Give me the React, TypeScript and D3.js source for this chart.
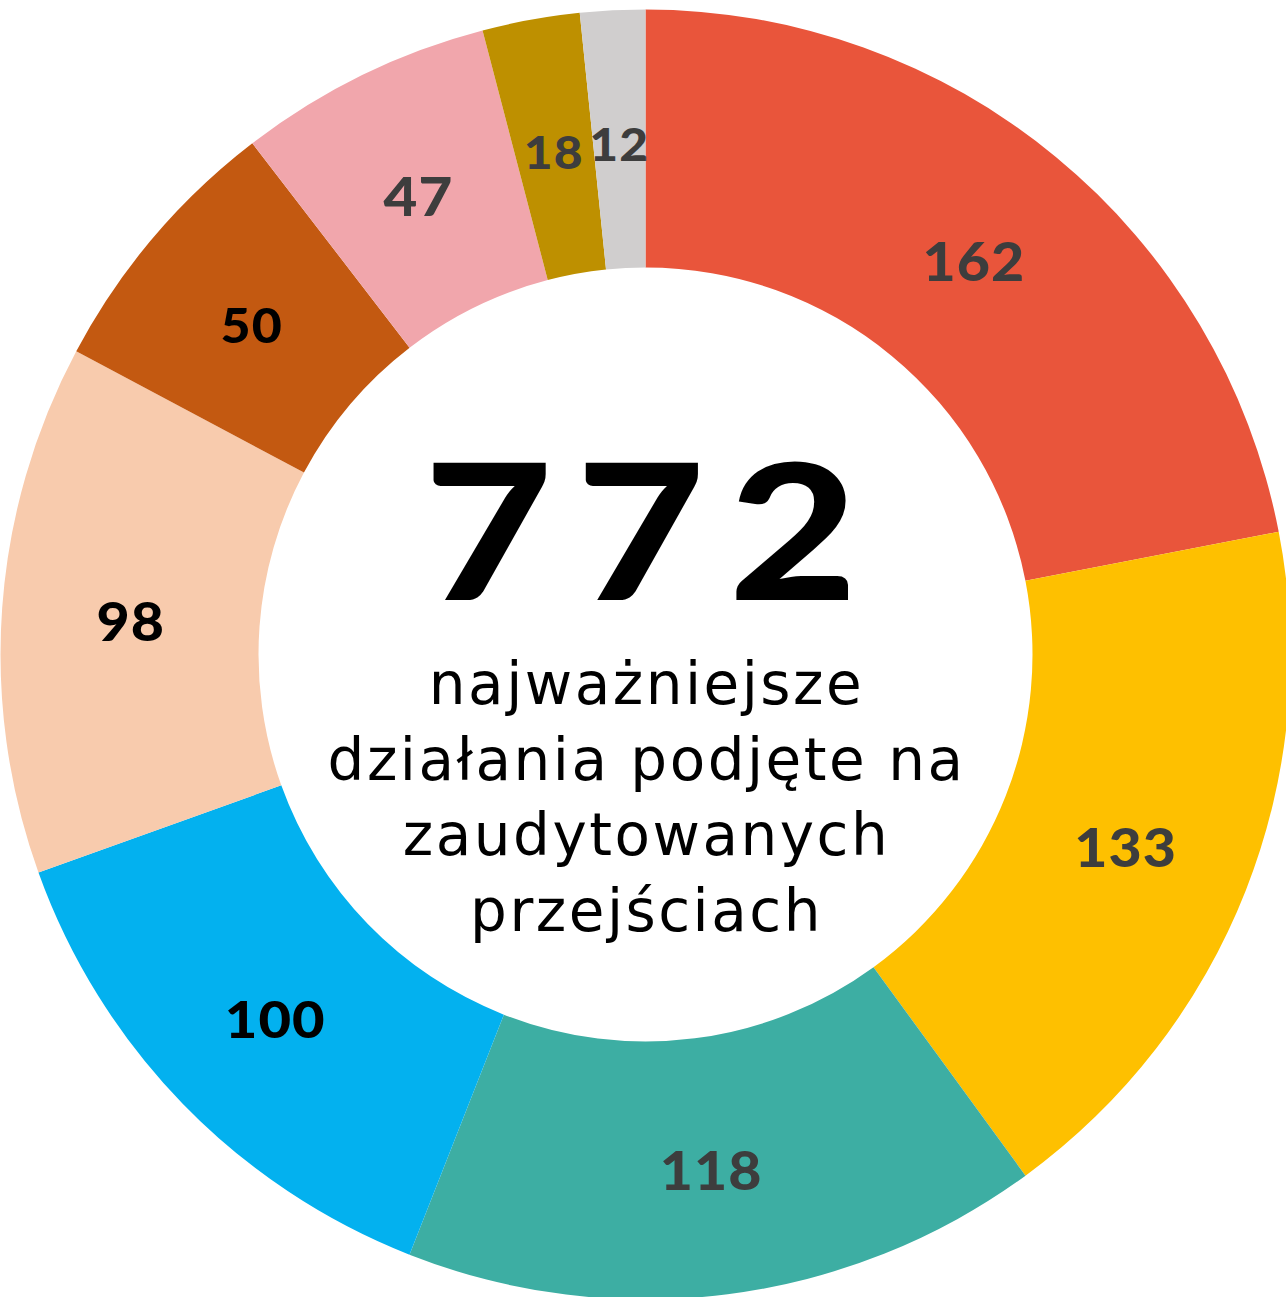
import { useEffect, useRef } from "react";
import * as d3 from "d3";

const values = [162, 133, 118, 100, 98, 50, 47, 18, 12];
const colors = ["#E9553B", "#FEC000", "#3DAEA3", "#03B1EF", "#F8CBAD", "#C35911", "#F1A6AC", "#BE9000", "#D0CECE"];
const labelColors = ["#3d3d3d", "#3d3d3d", "#3d3d3d", "#000", "#000", "#000", "#3d3d3d", "#3d3d3d", "#3d3d3d"];
const labelSizes = [53, 53, 53, 52, 53, 48, 54, 46, 46];
const totalLabel = "772";
const subtitle = ["najważniejsze", "działania podjęte na", "zaudytowanych", "przejściach"];

export default function App() {
  const svgRef = useRef<SVGSVGElement>(null);

  useEffect(() => {
    if (!svgRef.current) return;
    const width = 1286;
    const height = 1297;
    const cx = 645.5;
    const cy = 654.5;
    const outerR = 645;
    const innerR = 387;

    const svg = d3.select(svgRef.current);
    svg.selectAll("*").remove();

    const g = svg.append("g").attr("transform", `translate(${cx},${cy})`);

    const pie = d3.pie<number>().sort(null).value((d) => d);
    const arcs = pie(values);
    const arc = d3.arc<d3.PieArcDatum<number>>().innerRadius(innerR).outerRadius(outerR);
    const labelArc = d3
      .arc<d3.PieArcDatum<number>>()
      .innerRadius((innerR + outerR) / 2)
      .outerRadius((innerR + outerR) / 2);

    g.selectAll("path.slice")
      .data(arcs)
      .join("path")
      .attr("class", "slice")
      .attr("d", arc)
      .attr("fill", (_, i) => colors[i]);

    // slice labels, slightly widened to match the heavy geometric face
    g.selectAll("text.lbl")
      .data(arcs)
      .join("text")
      .attr("class", "lbl")
      .attr("transform", (d) => {
        const [x, y] = labelArc.centroid(d);
        return `translate(${x},${y + 4}) scale(1.08,1)`;
      })
      .attr("text-anchor", "middle")
      .attr("dominant-baseline", "central")
      .attr("font-family", "Lato, sans-serif")
      .attr("font-weight", 900)
      .attr("font-size", (_, i) => labelSizes[i])
      .attr("letter-spacing", 1)
      .attr("fill", (_, i) => labelColors[i])
      .text((d) => d.data);

    g.append("text")
      .attr("transform", `translate(7,${600 - cy}) scale(1.18,1)`)
      .attr("text-anchor", "middle")
      .attr("font-family", "Lato, sans-serif")
      .attr("font-weight", 900)
      .attr("font-size", 188)
      .attr("letter-spacing", 20)
      .attr("fill", "#000")
      .text(totalLabel);

    subtitle.forEach((line, i) => {
      g.append("text")
        .attr("x", 1)
        .attr("y", 704 - cy + i * 75.5)
        .attr("text-anchor", "middle")
        .attr("font-family", "'DejaVu Sans', sans-serif")
        .attr("font-size", 58)
        .attr("letter-spacing", 2.5)
        .attr("fill", "#000")
        .text(line);
    });

    svg.attr("width", width).attr("height", height);
  }, []);

  return (
    <svg
      ref={svgRef}
      width={1286}
      height={1297}
      style={{ position: "absolute", left: 0, top: 0, background: "#fff" }}
    />
  );
}
